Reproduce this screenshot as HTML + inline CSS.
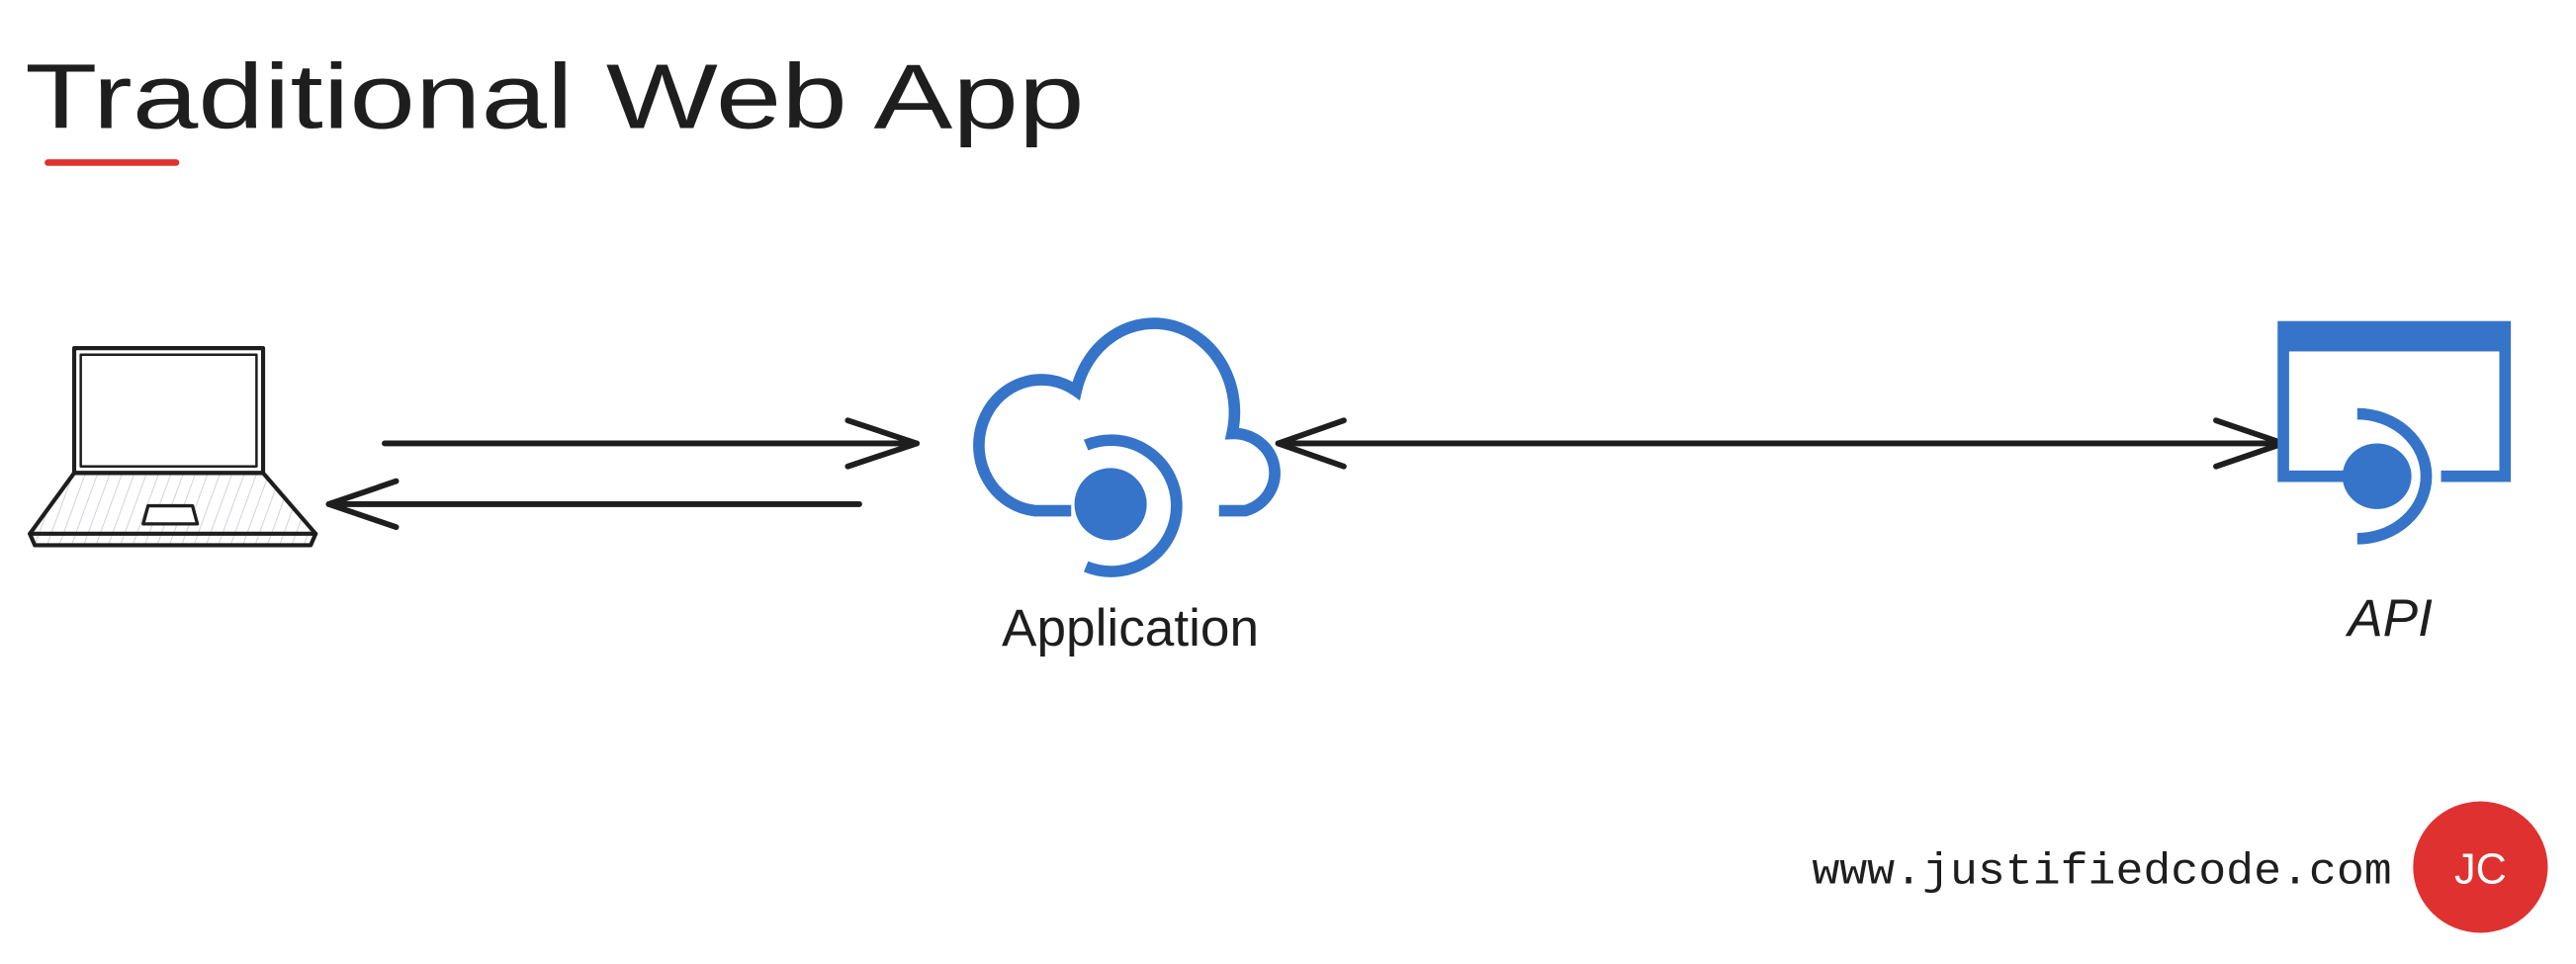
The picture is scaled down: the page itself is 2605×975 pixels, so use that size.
<!DOCTYPE html>
<html><head><meta charset="utf-8"><style>
html,body{margin:0;padding:0;background:#fff;}
svg{display:block;}
</style></head><body>
<svg width="2605" height="975" viewBox="0 0 1568 587" xmlns="http://www.w3.org/2000/svg">
<rect width="1568" height="587" fill="#fff"/>
<text x="15" y="78" font-family="Liberation Sans, sans-serif" font-size="56" fill="#1e1e1e" textLength="645" lengthAdjust="spacingAndGlyphs">Traditional Web App</text>
<line x1="29" y1="99" x2="107" y2="99" stroke="#e03131" stroke-width="4" stroke-linecap="round"/>

<g stroke="#1e1e1e" fill="none" stroke-linecap="round" stroke-linejoin="round">
  <defs><pattern id="h" width="7" height="7" patternUnits="userSpaceOnUse" patternTransform="rotate(20)"><line x1="0" y1="0" x2="0" y2="7" stroke="#ced4da" stroke-width="1.2"/></pattern></defs>
  <path d="M45,288 L18,325 L21,332 L189,332 L192,325 L160,288 Z" fill="url(#h)" stroke-width="2.5"/>
  <line x1="18" y1="325" x2="192" y2="325" stroke-width="2.5"/>
  <rect x="45" y="212" width="115" height="76" stroke-width="2.5"/>
  <rect x="49" y="216" width="107" height="68" stroke-width="1.5"/>
  <path d="M90,308 L117,308 L120,319 L87,319 Z" stroke-width="2" fill="#fff"/>
</g>

<g stroke="#1e1e1e" stroke-width="3.5" fill="none" stroke-linecap="round" stroke-linejoin="round">
  <line x1="234" y1="270" x2="558" y2="270"/>
  <polyline points="516,256 558,270 516,284"/>
  <line x1="523" y1="307" x2="200" y2="307"/>
  <polyline points="241,293 200,307 241,321"/>
  <line x1="778" y1="270" x2="1390" y2="270"/>
  <polyline points="818,256 778,270 818,284"/>
  <polyline points="1349,256 1390,270 1349,284"/>
</g>

<g stroke="#3574c9" stroke-width="7" fill="none">
  <path d="M652,311 L630,311 A38,40 0 1 1 655,238 A47,52 0 0 1 750,264 A25,24 0 0 1 758,311 L742,311"/>
  <path d="M661,271 A40,40 0 1 1 661,345"/>
</g>
<circle cx="676" cy="307" r="22" fill="#3574c9"/>
<text x="688" y="393" text-anchor="middle" font-family="Liberation Sans, sans-serif" font-size="32" fill="#1e1e1e">Application</text>

<rect x="1390" y="199" width="135" height="91" fill="none" stroke="#3574c9" stroke-width="7"/>
<rect x="1387" y="196" width="141" height="18" fill="#3574c9"/>
<rect x="1430" y="285" width="56" height="10" fill="#fff"/>
<path d="M1435,252 A42,38 0 1 1 1435,328" fill="none" stroke="#3574c9" stroke-width="7"/>
<ellipse cx="1447" cy="290" rx="21" ry="20" fill="#3574c9"/>
<text x="1455" y="387" text-anchor="middle" font-family="Liberation Sans, sans-serif" font-style="italic" font-size="32" fill="#1e1e1e">API</text>

<text x="1103" y="538" font-family="Liberation Mono, monospace" font-size="27" fill="#1e1e1e" textLength="353" lengthAdjust="spacingAndGlyphs">www.justifiedcode.com</text>
<ellipse cx="1510" cy="528" rx="41" ry="40" fill="#e03131"/>
<text x="1510" y="538" text-anchor="middle" font-family="Liberation Sans, sans-serif" font-size="26" fill="#fff">JC</text>
</svg>
</body></html>
